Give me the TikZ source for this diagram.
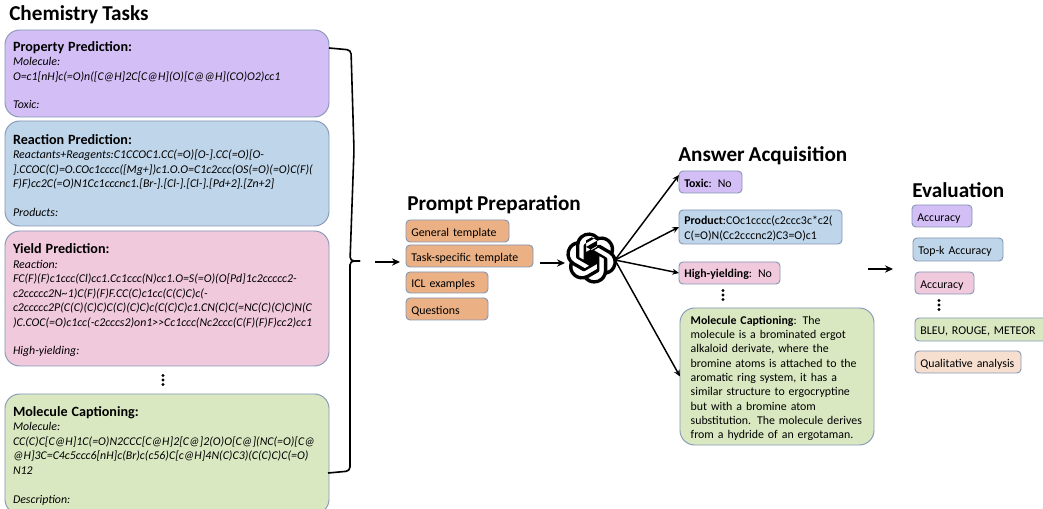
\documentclass[tikz,border=0pt]{standalone}
\usepackage{fontspec}
\setmainfont{Carlito}[WordSpace=0.85]
\usetikzlibrary{svg.path,arrows.meta,calc}
\def\pxu{0.75pt}
\definecolor{cpurple}{HTML}{D3BFF6}
\definecolor{cblue}{HTML}{BFD5EA}
\definecolor{cpink}{HTML}{F1C9DD}
\definecolor{cgreen}{HTML}{DAE8C2}
\definecolor{corange}{HTML}{EBB084}
\definecolor{cpeach}{HTML}{F7DFD0}
\definecolor{cedge}{HTML}{8497B5}
\newcommand{\boxhead}{\rule{0pt}{10pt}\fontsize{10.6}{12}\selectfont\bfseries\upshape}
\tikzset{
  x=\pxu,y=-\pxu,
  box/.style={draw=cedge,line width=0.7pt,anchor=north west,outer sep=0pt},
  taskbox/.style={box,rounded corners=11pt,align=left,inner xsep=6pt,inner ysep=0pt,
    text width=324*\pxu-12pt,
    font=\fontsize{8.9}{10.9}\selectfont\itshape},
  smallbox/.style={box,rounded corners=3pt,align=left,inner xsep=4pt,inner ysep=0pt,
    font=\fontsize{8.9}{11}\selectfont,execute at begin node={\rule{0pt}{9pt}}},
  sized/.style 2 args={text width=#1*\pxu-8pt,minimum height=#2*\pxu},
  head/.style={anchor=west,inner sep=0pt,font=\fontsize{15.9}{18}\selectfont\bfseries},
  flow/.style={-{Stealth[length=6pt,width=5.5pt]},line width=1.4pt,black},
  fan/.style={-{Stealth[length=5pt,width=4.5pt]},line width=1.1pt,black},
  brace/.style={line width=1.2pt,black,rounded corners=3pt},
  dot/.style={circle,fill=black,inner sep=0pt,minimum size=2.6pt},
}
\newcommand{\vdotsat}[3]{%
  \node[dot] (#3a) at (#1,#2-4.5) {};
  \node[dot] (#3b) at (#1,#2) {};
  \node[dot] (#3c) at (#1,#2+4.5) {};}
\begin{document}
\begin{tikzpicture}
\useasboundingbox (0,0) rectangle (1043,509);
\clip (0,0) rectangle (1043,509);
\fill[white] (0,0) rectangle (1043,509);

\node[head] (t1) at (9,15) {Chemistry Tasks};
\node[head] (t2) at (407,205) {Prompt Preparation};
\node[head] (t3) at (678,156) {Answer Acquisition};
\node[head] (t4) at (912,190) {Evaluation};

\node[taskbox,fill=cpurple,minimum height=87*\pxu] (prop) at (5,30) {%
{\boxhead Property Prediction:}\\
Molecule:\\
O=c1[nH]c(=O)n([C@H]2C[C@H](O)[C@@H](CO)O2)cc1\\[10.5pt]
Toxic:};
\node[taskbox,fill=cblue,minimum height=105*\pxu] (react) at (5,121) {%
{\boxhead Reaction Prediction:}\\
Reactants+Reagents:C1CCOC1.CC(=O)[O-].CC(=O)[O-\\
].CCOC(C)=O.COc1cccc([Mg+])c1.O.O=C1c2ccc(OS(=O)(=O)C(F)(\\
F)F)cc2C(=O)N1Cc1cccnc1.[Br-].[Cl-].[Cl-].[Pd+2].[Zn+2]\\[10.5pt]
Products:};
\node[taskbox,fill=cpink,minimum height=135*\pxu] (yield) at (5,231) {%
{\boxhead Yield Prediction:}\\
Reaction:\\
FC(F)(F)c1ccc(Cl)cc1.Cc1ccc(N)cc1.O=S(=O)(O[Pd]1c2ccccc2-\\
c2ccccc2N\textasciitilde1)C(F)(F)F.CC(C)c1cc(C(C)C)c(-\\
c2ccccc2P(C(C)(C)C)C(C)(C)C)c(C(C)C)c1.CN(C)C(=NC(C)(C)C)N(C\\
)C.COC(=O)c1cc(-c2cccs2)on1>{}>Cc1ccc(Nc2ccc(C(F)(F)F)cc2)cc1\\[10.5pt]
High-yielding:};
\node[taskbox,fill=cgreen,minimum height=120*\pxu] (mol) at (5,394) {%
{\boxhead Molecule Captioning:}\\
Molecule:\\
CC(C)C[C@H]1C(=O)N2CCC[C@H]2[C@]2(O)O[C@](NC(=O)[C@\\
@H]3C=C4c5ccc6[nH]c(Br)c(c56)C[c@H]4N(C)C3)(C(C)C)C(=O)\\
N12\\[10.5pt]
Description:};
\vdotsat{163}{380}{dl}

\coordinate (bt) at (329,48);
\coordinate (bb) at (328,473);
\coordinate (btip) at (360,261);
\draw[brace] (bt) -- (351,50) -- (354,150) -- (350,261) -- (btip);
\draw[brace] (btip) -- (350,261) -- (350,471) -- (bb);

\node[smallbox,fill=corange,sized={103}{22}] (pa) at (406,220) {General template};
\node[smallbox,fill=corange,sized={127}{22}] (pb) at (406,245) {Task-specific template};
\node[smallbox,fill=corange,sized={82}{21}] (pc) at (406,272) {ICL examples};
\node[smallbox,fill=corange,sized={82}{22}] (pd) at (406,298) {Questions};

\begin{scope}[shift={(566,232.4)},scale=1.6,yscale=-1]
\fill[black,even odd rule] svg "M22.2819 9.8211a5.9847 5.9847 0 0 0 -0.5157 -4.9108 6.0462 6.0462 0 0 0 -6.5098 -2.9A6.0651 6.0651 0 0 0 4.9807 4.1818a5.9847 5.9847 0 0 0 -3.9977 2.9 6.0462 6.0462 0 0 0 0.7427 7.0966 5.98 5.98 0 0 0 0.511 4.9107 6.051 6.051 0 0 0 6.5146 2.9001A5.9847 5.9847 0 0 0 13.2599 24a6.0557 6.0557 0 0 0 5.7718 -4.2058 5.9894 5.9894 0 0 0 3.9977 -2.9001 6.0557 6.0557 0 0 0 -0.7475 -7.0729zm-9.022 12.6081a4.4755 4.4755 0 0 1 -2.8764 -1.0408l0.1419 -0.0804 4.7783 -2.7582a0.7948 0.7948 0 0 0 0.3927 -0.6813v-6.7369l2.02 1.1686a0.071 0.071 0 0 1 0.038 0.052v5.5826a4.504 4.504 0 0 1 -4.4945 4.4944zm-9.6607 -4.1254a4.4708 4.4708 0 0 1 -0.5346 -3.0137l0.142 0.0852 4.783 2.7582a0.7712 0.7712 0 0 0 0.7806 0l5.8428 -3.3685v2.3324a0.0804 0.0804 0 0 1 -0.0332 0.0615L9.74 19.9502a4.4992 4.4992 0 0 1 -6.1408 -1.6464zM2.3408 7.8956a4.485 4.485 0 0 1 2.3655 -1.9728V11.6a0.7664 0.7664 0 0 0 0.3879 0.6765l5.8144 3.3543 -2.0201 1.1685a0.0757 0.0757 0 0 1 -0.071 0l-4.8303 -2.7865A4.504 4.504 0 0 1 2.3408 7.872zm16.5963 3.8558L13.1038 8.364 15.1192 7.2a0.0757 0.0757 0 0 1 0.071 0l4.8303 2.7913a4.4944 4.4944 0 0 1 -0.6765 8.1042v-5.6772a0.79 0.79 0 0 0 -0.407 -0.667zm2.0107 -3.0231l-0.142 -0.0852 -4.7735 -2.7818a0.7759 0.7759 0 0 0 -0.7854 0L9.409 9.2297V6.8974a0.0662 0.0662 0 0 1 0.0284 -0.0615l4.8303 -2.7866a4.4992 4.4992 0 0 1 6.6802 4.66zM8.3065 12.863l-2.02 -1.1638a0.0804 0.0804 0 0 1 -0.038 -0.0567V6.0742a4.4992 4.4992 0 0 1 7.3757 -3.4537l-0.142 0.0805L8.704 5.459a0.7948 0.7948 0 0 0 -0.3927 0.6813zm1.0976 -2.3654l2.602 -1.4998 2.6069 1.4998v2.9994l-2.5974 1.4997 -2.6067 -1.4997Z";
\end{scope}
\coordinate (logoR) at (615,260);

\node[smallbox,fill=cpurple,sized={63}{22}] (a1) at (679,171) {\textbf{Toxic}: No};
\node[smallbox,fill=cblue,sized={163}{34}] (a2) at (679,210) {\textbf{Product}:COc1cccc(c2ccc3c*c2(\\C(=O)N(Cc2cccnc2)C3=O)c1};
\node[smallbox,fill=cpink,sized={101}{22}] (a3) at (679,262) {\textbf{High-yielding}: No};
\vdotsat{723}{295}{da}
\node[smallbox,fill=cgreen,rounded corners=11pt,inner xsep=8pt,text width=194*\pxu-16pt,minimum height=137*\pxu,
  font=\fontsize{8.9}{10.75}\selectfont] (a4) at (680,308) {\textbf{Molecule Captioning}: The\\
molecule is a brominated ergot\\
alkaloid derivate, where the\\
bromine atoms is attached to the\\
aromatic ring system, it has a\\
similar structure to ergocryptine\\
but with a bromine atom\\
substitution. The molecule derives\\
from a hydride of an ergotaman.};

\node[smallbox,fill=cpurple,sized={60}{22}] (e1) at (912,205) {Accuracy};
\node[smallbox,fill=cblue,sized={90}{23}] (e2) at (913,238) {Top-k Accuracy};
\node[smallbox,fill=cpink,sized={59}{22}] (e3) at (915,272) {Accuracy};
\vdotsat{939}{305}{de}
\node[smallbox,fill=cgreen,sized={140}{23}] (e4) at (915,318) {BLEU, ROUGE, METEOR};
\node[smallbox,fill=cpeach,sized={106}{22}] (e5) at (915,351) {Qualitative analysis};

\coordinate (f1s) at (375,262);
\coordinate (f1e) at (400,262);
\coordinate (f2s) at (540,263);
\coordinate (f2e) at (565,263);
\coordinate (f3s) at (868,269);
\coordinate (f3e) at (893,269);
\draw[flow] (f1s) -- (f1e);
\draw[flow] (f2s) -- (f2e);
\draw[flow] (f3s) -- (f3e);
\draw[fan] (logoR) -- ($(a1.north west)+(0,4)$);
\draw[fan] (logoR) -- (a2.west);
\draw[fan] (logoR) -- (a3.west);
\draw[fan] (logoR) -- (a4.west);
\end{tikzpicture}
\end{document}
